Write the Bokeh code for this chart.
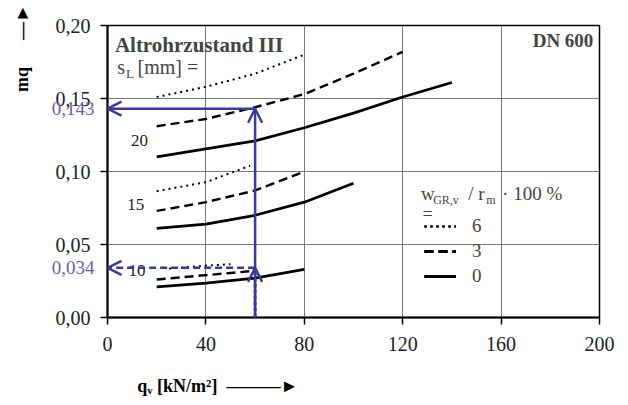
from bokeh.plotting import figure
from bokeh.models import (Label, Arrow, OpenHead, FixedTicker, Legend, LegendItem, Range1d,
                          LinearAxis)
from bokeh.embed import file_html
from bokeh.resources import INLINE

# ---------------- data ----------------
x_ticks = [0, 40, 80, 120, 160, 200]
y_ticks = [0.0, 0.05, 0.10, 0.15, 0.20]
y_tick_labels = ["0,00", "0,05", "0,10", "0,15", "0,20"]

# s_L = 20 mm
x20_0 = [20, 40, 60, 80, 100, 120, 140]
y20_0 = [0.110, 0.1155, 0.121, 0.130, 0.140, 0.151, 0.161]
x20_3 = [20, 40, 60, 80, 100, 120]
y20_3 = [0.131, 0.136, 0.144, 0.153, 0.167, 0.182]
x20_6 = [20, 40, 60, 80]
y20_6 = [0.151, 0.158, 0.167, 0.180]
# s_L = 15 mm
x15_0 = [20, 40, 60, 80, 100]
y15_0 = [0.061, 0.064, 0.070, 0.079, 0.092]
x15_3 = [20, 40, 60, 80]
y15_3 = [0.073, 0.079, 0.087, 0.100]
x15_6 = [20, 40, 58]
y15_6 = [0.0865, 0.0927, 0.104]
# s_L = 10 mm
x10_0 = [20, 40, 60, 80]
y10_0 = [0.021, 0.0235, 0.027, 0.033]
x10_3 = [20, 40, 60]
y10_3 = [0.026, 0.029, 0.032]
x10_6 = [25, 40, 50]
y10_6 = [0.0335, 0.0355, 0.0365]

sL_labels = ["20", "15", "10"]
sL_label_x = [13, 11.5, 12]
sL_label_y = [0.121, 0.0774, 0.032]

legend_labels = ["6", "3", "0"]

# reading example
read_x = 60
read_y = [0.143, 0.034]
read_labels = ["0,143", "0,034"]

# ---------------- figure ----------------
BLUE = "#3a3a9c"
BLUE_TXT = "#6a5eae"
SERIF = "Liberation Serif"

p = figure(width=620, height=403, output_backend="svg", toolbar_location=None,
           x_range=Range1d(0, 200), y_range=Range1d(0, 0.2),
           min_border_left=107, min_border_right=21, min_border_top=25, min_border_bottom=86)
p.background_fill_color = "white"
p.border_fill_color = "white"
p.outline_line_color = "black"
p.outline_line_width = 1.5

p.xaxis.ticker = FixedTicker(ticks=x_ticks)
p.yaxis.ticker = FixedTicker(ticks=y_ticks)
p.yaxis.major_label_overrides = {t: l for t, l in zip(y_ticks, y_tick_labels)}
for ax in (p.xaxis[0], p.yaxis[0]):
    ax.axis_line_width = 2
    ax.axis_line_color = "black"
    ax.major_tick_out = 7
    ax.major_tick_in = 0
    ax.major_tick_line_width = 1.5
    ax.minor_tick_line_color = None
    ax.major_label_text_font = SERIF
    ax.major_label_text_font_size = "20px"
    ax.major_label_text_color = "#222222"
    ax.axis_label_text_font = SERIF
    ax.axis_label_text_font_size = "18px"
    ax.axis_label_text_font_style = "bold"
    ax.axis_label_text_color = "black"
p.yaxis.major_label_standoff = 10
p.xaxis.major_label_standoff = 12

# axis titles
p.yaxis.axis_label = "mq\u2003\u2002—►\u2003\u2003\u2002"
p.yaxis.axis_label_align = "end"
p.yaxis.axis_label_standoff = 21
p.xaxis.axis_label = "\u2003" * 12 + "\u2005" + "qᵥ [kN/m²]\u2002———►"
p.xaxis.axis_label_align = "start"
p.xaxis.axis_label_standoff = 22

p.xgrid.grid_line_color = "#7a7a7a"
p.ygrid.grid_line_color = "#7a7a7a"
p.xgrid.grid_line_width = 1
p.ygrid.grid_line_width = 1

# read-off values as a second, label-only axis
ax2 = LinearAxis(ticker=FixedTicker(ticks=read_y),
                 major_label_overrides={v: t for v, t in zip(read_y, read_labels)},
                 axis_line_color=None, major_tick_line_color=None, minor_tick_line_color=None,
                 major_tick_out=0, major_tick_in=0, minor_tick_out=0, minor_tick_in=0,
                 major_label_text_color=BLUE_TXT, major_label_text_font=SERIF,
                 major_label_text_font_size="19px", major_label_standoff=-86)
p.add_layout(ax2, "left")

LW = 2.4
r_solid, r_dash, r_dot = [], [], []
for xs, ys in [(x20_0, y20_0), (x15_0, y15_0), (x10_0, y10_0)]:
    r_solid.append(p.line(xs, ys, line_color="black", line_width=LW + 0.3))
for xs, ys in [(x20_3, y20_3), (x15_3, y15_3), (x10_3, y10_3)]:
    r_dash.append(p.line(xs, ys, line_color="black", line_width=LW, line_dash="9 5"))
for xs, ys in [(x20_6, y20_6), (x15_6, y15_6), (x10_6, y10_6)]:
    r_dot.append(p.line(xs, ys, line_color="black", line_width=2, line_dash="2 4"))

for t, lx, ly in zip(sL_labels, sL_label_x, sL_label_y):
    p.add_layout(Label(x=lx, y=ly, text=t, text_font=SERIF, text_font_size="17px",
                       text_align="center", text_baseline="middle", text_color="#222222"))

# reading example arrows
p.add_layout(Arrow(x_start=read_x, y_start=0, x_end=read_x, y_end=read_y[0],
                   line_color=BLUE, line_width=2.5,
                   end=OpenHead(size=14, line_color=BLUE, line_width=2.5)))
p.add_layout(Arrow(x_start=read_x, y_start=read_y[0], x_end=0, y_end=read_y[0],
                   line_color=BLUE, line_width=2.5,
                   end=OpenHead(size=14, line_color=BLUE, line_width=2.5)))
p.add_layout(Arrow(x_start=read_x, y_start=0, x_end=read_x, y_end=read_y[1],
                   line_color=BLUE, line_width=3, line_dash="4 2",
                   end=OpenHead(size=14, line_color=BLUE, line_width=2.5)))
p.add_layout(Arrow(x_start=read_x, y_start=read_y[1], x_end=0, y_end=read_y[1],
                   line_color=BLUE, line_width=2.5, line_dash="7 4",
                   end=OpenHead(size=14, line_color=BLUE, line_width=2.5)))

# texts in the plot
p.add_layout(Label(x=3.0, y=0.1865, text="Altrohrzustand III", text_font=SERIF,
                   text_font_size="21px", text_font_style="bold", text_baseline="middle"))
p.add_layout(Label(x=4.0, y=0.1715, text="s", text_font=SERIF, text_font_size="20px",
                   text_baseline="middle"))
p.add_layout(Label(x=7.5, y=0.1672, text="L", text_font=SERIF, text_font_size="13px",
                   text_baseline="middle"))
p.add_layout(Label(x=12.2, y=0.1715, text="[mm] =", text_font=SERIF, text_font_size="20px",
                   text_baseline="middle"))
p.add_layout(Label(x=197.5, y=0.1895, text="DN 600", text_font=SERIF, text_font_size="19px",
                   text_font_style="bold", text_align="right", text_baseline="middle"))

# legend title
p.add_layout(Label(x=127.4, y=0.0847, text="w", text_font=SERIF, text_font_size="19px",
                   text_baseline="middle"))
p.add_layout(Label(x=132.4, y=0.0805, text="GR,v", text_font=SERIF, text_font_size="12px",
                   text_baseline="middle"))
p.add_layout(Label(x=146.6, y=0.0847, text="/ r", text_font=SERIF, text_font_size="19px",
                   text_baseline="middle"))
p.add_layout(Label(x=154.0, y=0.0805, text="m", text_font=SERIF, text_font_size="12px",
                   text_baseline="middle"))
p.add_layout(Label(x=160.4, y=0.0847, text="· 100 %", text_font=SERIF, text_font_size="19px",
                   text_baseline="middle"))
p.add_layout(Label(x=128.0, y=0.0712, text="=", text_font=SERIF, text_font_size="18px",
                   text_baseline="middle"))

legend = Legend(items=[LegendItem(label=legend_labels[0], renderers=r_dot),
                       LegendItem(label=legend_labels[1], renderers=r_dash),
                       LegendItem(label=legend_labels[2], renderers=r_solid)],
                location=(317, 30), glyph_width=32, glyph_height=20, label_height=20,
                spacing=3, padding=0, margin=0, border_line_color=None,
                background_fill_alpha=0, label_standoff=16,
                label_text_font=SERIF, label_text_font_size="19px",
                label_text_baseline="middle")
p.add_layout(legend, "center")

open("out.html", "w").write(file_html(p, INLINE))
